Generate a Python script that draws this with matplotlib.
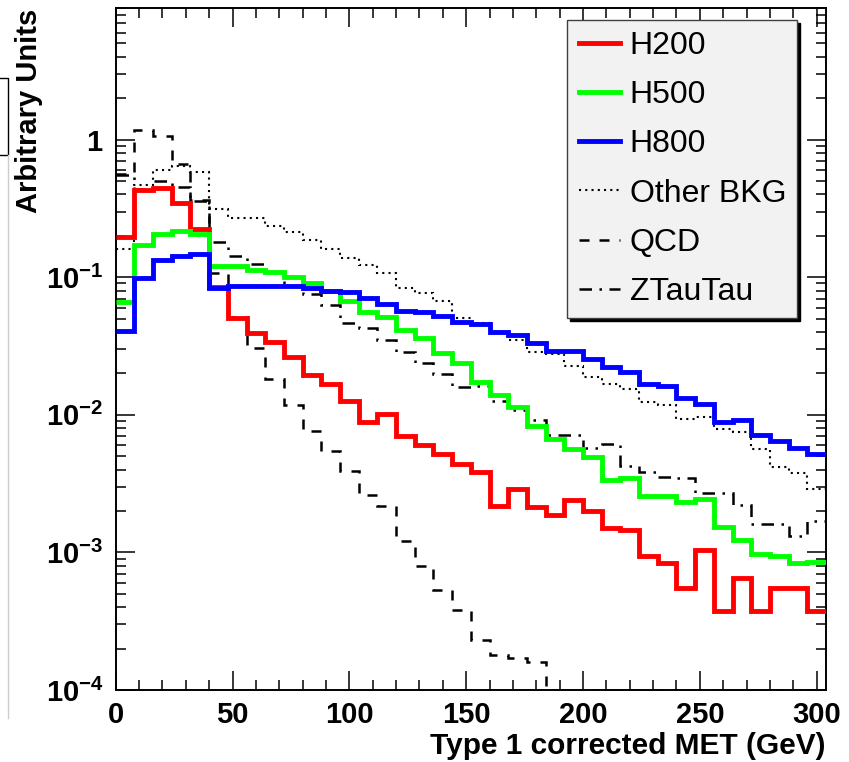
import numpy as np
import matplotlib
matplotlib.use("Agg")
import matplotlib.pyplot as plt
from matplotlib.lines import Line2D
from matplotlib.ticker import FixedLocator, FuncFormatter, LogLocator, MultipleLocator

plt.rcParams['font.family'] = ['Liberation Sans', 'DejaVu Sans']
plt.rcParams['mathtext.fontset'] = 'custom'
plt.rcParams['mathtext.rm'] = 'Liberation Sans:bold'
plt.rcParams['mathtext.bf'] = 'Liberation Sans:bold'

# 38 bins of 8 GeV, 0 - 304
edges = np.arange(0, 305, 8)

h200 = [0.195, 0.433, 0.447, 0.346, 0.225, 0.085, 0.0506, 0.0391, 0.0337, 0.0262,
        0.0196, 0.0168, 0.0127, 0.00881, 0.0101, 0.0070, 0.00608, 0.00521, 0.00440, 0.00387,
        0.00218, 0.00288, 0.00212, 0.00187, 0.00240, 0.00200, 0.00151, 0.00145, 0.000943, 0.000843,
        0.000549, 0.00104, 0.000375, 0.000656, 0.000375, 0.000549, 0.000549, 0.000375]
h500 = [0.0658, 0.170, 0.207, 0.216, 0.205, 0.120, 0.120, 0.112, 0.109, 0.100,
        0.0904, 0.0799, 0.0677, 0.0556, 0.0511, 0.0415, 0.0360, 0.0280, 0.0237, 0.0172,
        0.0139, 0.0113, 0.00834, 0.00667, 0.00564, 0.00490, 0.00338, 0.00350, 0.00258, 0.00258,
        0.00234, 0.00246, 0.00154, 0.00123, 0.000980, 0.000943, 0.000843, 0.000857]
h800 = [0.0409, 0.0990, 0.134, 0.1415, 0.148, 0.0837, 0.0870, 0.0870, 0.0870, 0.0870,
        0.0837, 0.0800, 0.0778, 0.0708, 0.0640, 0.0565, 0.0556, 0.0526, 0.0471, 0.0458,
        0.0398, 0.0381, 0.0331, 0.0293, 0.0293, 0.0255, 0.0222, 0.0204, 0.0168, 0.0163,
        0.0132, 0.0120, 0.00891, 0.00917, 0.00716, 0.00648, 0.00569, 0.00519]
other_bkg = [0.16, 0.47, 0.60, 0.64, 0.58, 0.312, 0.268, 0.268, 0.236, 0.213,
             0.185, 0.159, 0.138, 0.122, 0.107, 0.0837, 0.0767, 0.0677, 0.0503, 0.0463,
             0.0391, 0.0350, 0.0285, 0.0277, 0.0228, 0.0187, 0.0167, 0.0155, 0.0123, 0.0118,
             0.00931, 0.00968, 0.00789, 0.00745, 0.00564, 0.00414, 0.00375, 0.00288]
qcd = [0.565, 1.18, 1.07, 0.669, 0.361, 0.108, 0.0512, 0.0304, 0.0182, 0.0118,
       0.00762, 0.00542, 0.00388, 0.00261, 0.00218, 0.00121, 0.00079, 0.00053, 0.00038, 0.00023,
       0.00018, 0.00017, 0.00016, 0, 0, 0, 0, 0, 0, 0,
       0, 0, 0, 0, 0, 0, 0, 0]
ztautau = [0.55, 0.44, 0.50, 0.45, 0.36, 0.180, 0.1415, 0.125, 0.109, 0.0870,
           0.0757, 0.0633, 0.0463, 0.0428, 0.0350, 0.0285, 0.0236, 0.0197, 0.0160, 0.0163,
           0.0127, 0.0109, 0.00917, 0.00713, 0.00713, 0.00569, 0.00609, 0.00426, 0.00383, 0.00354,
           0.00345, 0.00272, 0.00272, 0.00222, 0.00160, 0.00162, 0.00132, 0.00168]

ymin, ymax = 1e-4, 9.0

fig = plt.figure(figsize=(8.49, 7.62), dpi=100)
ax = fig.add_axes([0.1363, 0.0945, 0.8366, 0.8946])

ax.stairs(np.maximum(other_bkg, ymin), edges, baseline=None, color='black', lw=1.5, ls=(0, (1, 2)), label='Other BKG', zorder=2)
ax.stairs(np.maximum(qcd, ymin), edges, baseline=None, color='black', lw=1.8, ls=(0, (4, 4)), label='QCD', zorder=2)
ax.stairs(np.maximum(ztautau, ymin), edges, baseline=None, color='black', lw=1.8, ls=(0, (5, 3, 1, 3)), label='ZTauTau', zorder=2)
ax.stairs(h200, edges, baseline=None, color='#ff0000', lw=3.5, label='H200', zorder=3)
ax.stairs(h500, edges, baseline=None, color='#00ff00', lw=3.5, label='H500', zorder=3)
ax.stairs(h800, edges, baseline=None, color='#0000ff', lw=3.5, label='H800', zorder=3)

ax.set_yscale('log')
ax.set_xlim(0, 304)
ax.set_ylim(ymin, ymax)

ax.xaxis.set_major_locator(MultipleLocator(50))
ax.xaxis.set_minor_locator(MultipleLocator(10))
ax.yaxis.set_major_locator(FixedLocator([1e-4, 1e-3, 1e-2, 1e-1, 1]))
ax.yaxis.set_minor_locator(LogLocator(base=10, subs=np.arange(2, 10)))

def ylab(v, pos):
    if v == 1:
        return r'$\mathbf{1}$'
    return r'$\mathbf{10^{%d}}$' % int(round(np.log10(v)))

ax.yaxis.set_major_formatter(FuncFormatter(ylab))

ax.tick_params(which='both', direction='in', top=True, right=True, width=1.1, labelsize=21)
ax.tick_params(which='major', length=14)
ax.tick_params(which='minor', length=7)
ax.tick_params(axis='x', pad=8)
ax.tick_params(axis='y', pad=9)
for lab in ax.get_xticklabels():
    lab.set_fontweight('bold')
for s in ax.spines.values():
    s.set_linewidth(1.4)

ax.set_xlabel('Type 1 corrected MET (GeV)', fontsize=21.5, fontweight='bold', loc='right')
ax.xaxis.set_label_coords(1.0, -0.062)
ax.set_ylabel('Arbitrary Units', fontsize=21, fontweight='bold', loc='top')
ax.yaxis.set_label_coords(-0.102, 1.0)

handles, labels = ax.get_legend_handles_labels()
order = [3, 4, 5, 0, 1, 2]
hl = []
for i in order:
    h = handles[i]
    hl.append(Line2D([], [], color=h.get_edgecolor(), lw=h.get_linewidth(), ls=h.get_linestyle()))
leg = ax.legend(hl, [labels[i] for i in order], loc='upper left',
                bbox_to_anchor=(0.636, 0.983), fontsize=23, frameon=True, fancybox=False,
                facecolor='#f2f2f2', edgecolor='#404040', framealpha=1,
                handlelength=1.3, handletextpad=0.3, labelspacing=0.6, borderpad=0.35,
                borderaxespad=0, shadow={'color': 'black', 'alpha': 1})
leg.get_frame().set_linewidth(1.0)

# edge of the neighbouring pad, cut off at the left of the picture
fig.add_artist(Line2D([0, 8 / 849, 8 / 849, 0], [1 - 78 / 762, 1 - 78 / 762, 1 - 155 / 762, 1 - 155 / 762],
                      color='black', lw=1.0, transform=fig.transFigure))
fig.add_artist(Line2D([8 / 849, 8 / 849], [1 - 155 / 762, 1 - 718 / 762],
                      color='#cccccc', lw=1.0, transform=fig.transFigure))

fig.savefig('out.png', dpi=100)
